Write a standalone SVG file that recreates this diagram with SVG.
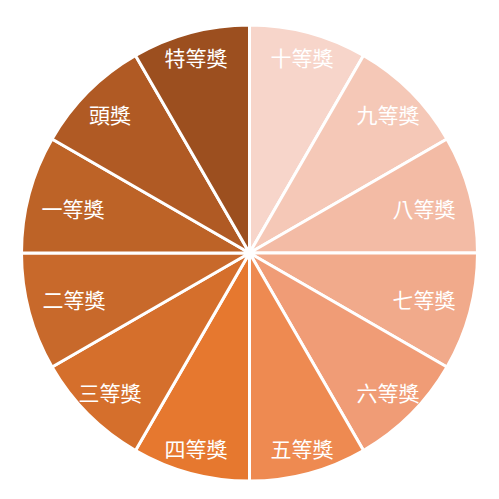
<svg xmlns="http://www.w3.org/2000/svg" width="499" height="499" viewBox="0 0 499 499">
<style>
.w{stroke:#fff;stroke-width:3;stroke-linejoin:round}
.t{fill:#fff;font-family:"Noto Sans CJK TC","Noto Sans CJK SC",sans-serif;font-size:21px;text-anchor:middle;dominant-baseline:central}
</style>
<rect width="499" height="499" fill="#fff"/>
<g id="n10"><path class="w" fill="#f7d5ca" d="M249.5,253 L249.5,25 A228,228 0 0 1 363.5,55.55 Z"/><text class="t" x="302" y="57">十等獎</text></g>
<g id="n9"><path class="w" fill="#f5c8b7" d="M249.5,253 L363.5,55.55 A228,228 0 0 1 446.95,139 Z"/><text class="t" x="388" y="114">九等獎</text></g>
<g id="n8"><path class="w" fill="#f3bba5" d="M249.5,253 L446.95,139 A228,228 0 0 1 477.5,253 Z"/><text class="t" x="424" y="208">八等獎</text></g>
<g id="n7"><path class="w" fill="#f1aa8b" d="M249.5,253 L477.5,253 A228,228 0 0 1 446.95,367 Z"/><text class="t" x="424" y="299">七等獎</text></g>
<g id="n6"><path class="w" fill="#f09c76" d="M249.5,253 L446.95,367 A228,228 0 0 1 363.5,450.45 Z"/><text class="t" x="388" y="392">六等獎</text></g>
<g id="n5"><path class="w" fill="#ee8a51" d="M249.5,253 L363.5,450.45 A228,228 0 0 1 249.5,481 Z"/><text class="t" x="302" y="448">五等獎</text></g>
<g id="n4"><path class="w" fill="#e6782f" d="M249.5,253 L249.5,481 A228,228 0 0 1 135.5,450.45 Z"/><text class="t" x="196" y="448">四等獎</text></g>
<g id="n3"><path class="w" fill="#d56f2c" d="M249.5,253 L135.5,450.45 A228,228 0 0 1 52.05,367 Z"/><text class="t" x="110" y="392">三等獎</text></g>
<g id="n2"><path class="w" fill="#c8692b" d="M249.5,253 L52.05,367 A228,228 0 0 1 21.5,253 Z"/><text class="t" x="74" y="299">二等獎</text></g>
<g id="n1"><path class="w" fill="#bd6327" d="M249.5,253 L21.5,253 A228,228 0 0 1 52.05,139 Z"/><text class="t" x="73" y="208">一等獎</text></g>
<g id="n0"><path class="w" fill="#b05a24" d="M249.5,253 L52.05,139 A228,228 0 0 1 135.5,55.55 Z"/><text class="t" x="110" y="114">頭獎</text></g>
<g id="nt"><path class="w" fill="#9c4f1f" d="M249.5,253 L135.5,55.55 A228,228 0 0 1 249.5,25 Z"/><text class="t" x="196" y="57">特等獎</text></g>
<g id="connectors"></g>
</svg>
